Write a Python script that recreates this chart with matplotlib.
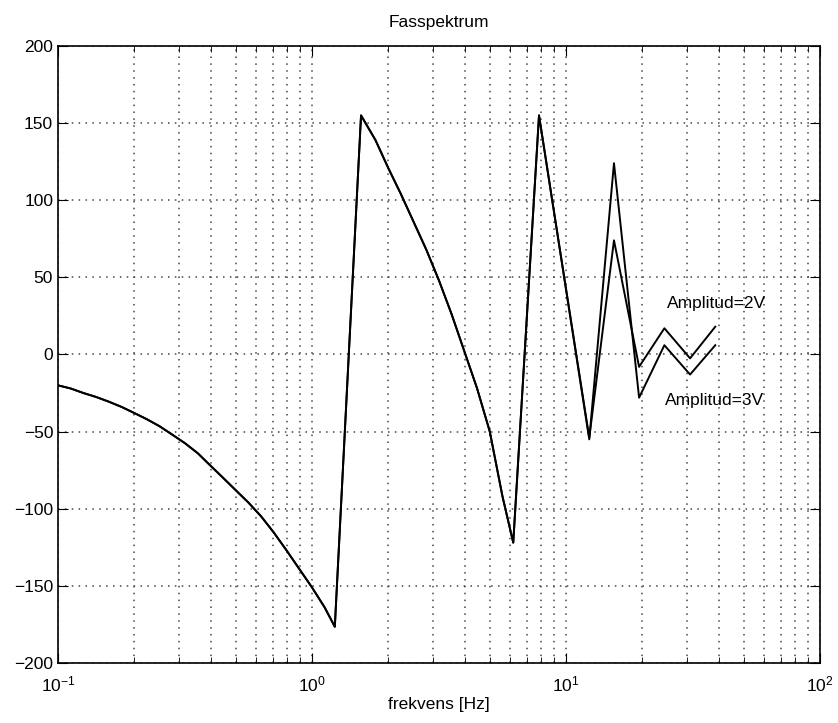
import numpy as np
import matplotlib
matplotlib.use("Agg")
import matplotlib.pyplot as plt

plt.rcParams['font.family'] = ['Liberation Sans', 'DejaVu Sans']
plt.rcParams['mathtext.fontset'] = 'custom'
plt.rcParams['mathtext.rm'] = 'Liberation Sans'
plt.rcParams['mathtext.it'] = 'Liberation Sans'

# frequencies [Hz]
freq_low = [0.1, 0.112, 0.126, 0.141, 0.158, 0.178, 0.2, 0.224, 0.251, 0.282,
            0.316, 0.355, 0.398, 0.447, 0.501, 0.562, 0.631, 0.708, 0.794,
            0.891, 1.0, 1.122, 1.23]
freq_mid = [1.56, 1.778, 1.995, 2.239, 2.512, 2.818, 3.162, 3.548, 3.981,
            4.467, 5.012, 5.623, 6.2]
freq_high = [7.83, 12.35, 15.45, 19.4, 24.4, 30.8, 38.7]

# phase [deg] - common part (both amplitudes)
phase_low = [-20, -22, -25, -27.5, -30.5, -34, -38, -42, -46.5, -52,
             -57.5, -64, -72, -80, -88, -96, -105, -115.5, -127,
             -139, -151, -164, -176.5]
phase_mid = [155, 139, 121, 104, 86, 68, 48, 26, 2, -22, -50, -92, -122]

# phase [deg] - above ~8 Hz the two amplitudes differ
phase_2v_high = [155, -54, 74, -8, 17, -2.5, 18]
phase_3v_high = [155, -55, 124, -28, 6, -13, 6]

freq = freq_low + freq_mid + freq_high
phase_2v = phase_low + phase_mid + phase_2v_high
phase_3v = phase_low + phase_mid + phase_3v_high

fig = plt.figure(figsize=(8.38, 7.23), dpi=100)
ax = fig.add_axes([0.0692, 0.083, 0.9093, 0.8534])

ax.semilogx(freq, phase_2v, color='black', linewidth=1.4)
ax.semilogx(freq, phase_3v, color='black', linewidth=1.4)

ax.set_xlim(0.1, 100)
ax.set_ylim(-200, 200)
ax.set_yticks(np.arange(-200, 201, 50))

grid_style = dict(linestyle=(0, (1, 3.5)), color='#444444', linewidth=1.1)
ax.grid(True, which='major', axis='both', **grid_style)
ax.grid(True, which='minor', axis='x', **grid_style)
ax.tick_params(which='both', direction='in', top=True, right=True, labelsize=12.5)
ax.tick_params(which='major', length=7)
ax.tick_params(which='minor', length=4)
ax.tick_params(axis='x', pad=8)
for s in ax.spines.values():
    s.set_linewidth(1.2)

ax.text(25.0, 33, 'Amplitud=2V', fontsize=12.5, va='center', ha='left')
ax.text(24.6, -30, 'Amplitud=3V', fontsize=12.5, va='center', ha='left')

ax.set_title('Fasspektrum', fontsize=12.5, pad=14)
ax.set_xlabel('frekvens [Hz]', fontsize=12.5, labelpad=2)

fig.savefig('out.png', dpi=100)
